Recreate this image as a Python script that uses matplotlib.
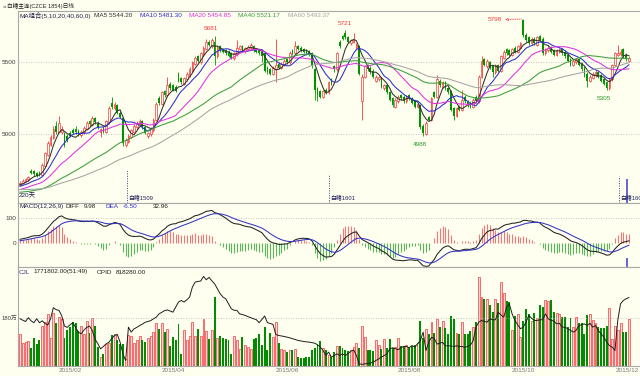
import numpy as np
import pandas as pd
import matplotlib
matplotlib.use("Agg")
import matplotlib.pyplot as plt
import matplotlib.transforms as mtrans
from matplotlib import font_manager

installed = {f.name for f in font_manager.fontManager.ttflist}
latin = 'Liberation Sans Narrow' if 'Liberation Sans Narrow' in installed else 'Liberation Sans'
plt.rcParams['font.family'] = [latin, 'Noto Sans CJK SC', 'DejaVu Sans']
FS = 5.2 if latin.endswith('Narrow') else 4.6

# ---- data (prices in yuan/t, volume and open interest in 万手) ----
# closes before the visible window, only used to warm up the MA / MACD lines
prior_closes = [4700, 4690, 4710, 4695, 4680, 4690, 4670, 4660, 4675, 4665,
                4650, 4660, 4645, 4640, 4655, 4640, 4630, 4625, 4640, 4630,
                4620, 4610, 4625, 4615, 4600, 4590, 4605, 4595, 4580, 4590,
                4575, 4570, 4585, 4575, 4560, 4570, 4555, 4565, 4550, 4560,
                4570, 4555, 4575, 4590, 4580, 4600, 4595, 4610, 4620, 4605,
                4625, 4615, 4630, 4640, 4625, 4645, 4650, 4640, 4655, 4650]

opens = [4650, 4665, 4678, 4690, 4750, 4745, 4730, 4735, 4720, 4785,
         4860, 4930, 4975, 5060, 5020, 5020, 5010, 4990, 5010, 5030,
         5040, 5025, 4995, 5015, 5040, 5090, 5065, 5110, 5080, 5020,
         5045, 5020, 5085, 5220, 5180, 5200, 5150, 5110, 4930, 4950,
         4985, 5020, 5050, 5070, 5090, 5050, 4990, 5000, 5030, 5100,
         5250, 5210, 5300, 5270, 5350, 5340, 5330, 5420, 5390, 5350,
         5380, 5410, 5440, 5490, 5540, 5500, 5555, 5590, 5640, 5610,
         5640, 5540, 5610, 5590, 5580, 5570, 5560, 5525, 5555, 5590,
         5610, 5575, 5590, 5600, 5610, 5590, 5580, 5570, 5560, 5460,
         5450, 5420, 5450, 5490, 5460, 5480, 5520, 5500, 5580, 5560,
         5610, 5600, 5590, 5580, 5570, 5560, 5450, 5320, 5300, 5260,
         5310, 5290, 5380, 5470, 5450, 5640, 5680, 5700, 5670, 5630,
         5640, 5600, 5610, 5230, 5400, 5480, 5460, 5440, 5370, 5380,
         5390, 5320, 5340, 5290, 5250, 5190, 5230, 5270, 5260, 5230,
         5270, 5250, 5230, 5190, 5200, 5060, 5000, 5120, 5100, 5290,
         5260, 5370, 5330, 5360, 5320, 5300, 5180, 5130, 5190, 5170,
         5260, 5230, 5220, 5190, 5260, 5230, 5400, 5520, 5470, 5500,
         5470, 5430, 5480, 5440, 5530, 5590, 5580, 5550, 5600, 5570,
         5600, 5790, 5690, 5670, 5630, 5660, 5620, 5680, 5660, 5560,
         5580, 5600, 5580, 5550, 5570, 5590, 5570, 5550, 5520, 5480,
         5500, 5520, 5490, 5460, 5420, 5370, 5390, 5410, 5430, 5410,
         5380, 5360, 5320, 5380, 5480, 5550, 5555, 5590, 5550, 5510]

highs = [4675, 4690, 4700, 4715, 4760, 4755, 4740, 4745, 4800, 4880,
         4955, 4995, 5060, 5090, 5127, 5060, 5020, 5000, 5025, 5045,
         5055, 5035, 5030, 5055, 5095, 5100, 5130, 5120, 5090, 5045,
         5055, 5100, 5195, 5260, 5225, 5210, 5160, 5120, 4975, 5000,
         5040, 5070, 5090, 5105, 5100, 5060, 5020, 5050, 5110, 5225,
         5265, 5300, 5310, 5395, 5360, 5350, 5340, 5430, 5400, 5400,
         5430, 5465, 5510, 5545, 5550, 5570, 5610, 5660, 5650, 5665,
         5681, 5615, 5620, 5600, 5590, 5580, 5570, 5570, 5655, 5620,
         5620, 5605, 5615, 5635, 5620, 5600, 5590, 5580, 5570, 5470,
         5460, 5470, 5660, 5500, 5500, 5520, 5530, 5575, 5590, 5645,
         5620, 5610, 5600, 5590, 5580, 5570, 5460, 5330, 5310, 5310,
         5320, 5370, 5390, 5480, 5570, 5650, 5690, 5721, 5680, 5660,
         5700, 5630, 5620, 5420, 5480, 5490, 5470, 5450, 5410, 5405,
         5400, 5350, 5350, 5300, 5260, 5250, 5270, 5280, 5270, 5275,
         5280, 5260, 5240, 5220, 5210, 5070, 5090, 5130, 5260, 5300,
         5410, 5385, 5370, 5370, 5330, 5310, 5190, 5190, 5200, 5310,
         5270, 5240, 5230, 5250, 5270, 5410, 5540, 5530, 5520, 5510,
         5480, 5490, 5490, 5550, 5580, 5600, 5590, 5600, 5610, 5620,
         5640, 5798, 5700, 5680, 5670, 5670, 5680, 5690, 5670, 5600,
         5610, 5610, 5590, 5590, 5600, 5600, 5580, 5560, 5530, 5520,
         5530, 5530, 5500, 5470, 5430, 5410, 5430, 5445, 5440, 5420,
         5390, 5370, 5390, 5490, 5570, 5620, 5590, 5600, 5560, 5545]

lows = [4640, 4655, 4670, 4680, 4725, 4715, 4705, 4710, 4715, 4775,
        4850, 4920, 4965, 5005, 5010, 5005, 4910, 4945, 4980, 5000,
        5005, 4990, 4985, 5005, 5030, 5060, 5055, 5075, 5040, 4980,
        5010, 5010, 5075, 5175, 5170, 5140, 5110, 4920, 4910, 4940,
        4975, 5010, 5040, 5060, 5040, 5000, 4975, 4990, 5020, 5090,
        5200, 5200, 5260, 5260, 5310, 5300, 5290, 5360, 5350, 5340,
        5370, 5400, 5430, 5480, 5500, 5490, 5545, 5580, 5610, 5600,
        5480, 5530, 5570, 5560, 5550, 5535, 5520, 5515, 5545, 5580,
        5570, 5565, 5580, 5590, 5570, 5560, 5550, 5500, 5430, 5420,
        5410, 5410, 5360, 5450, 5450, 5470, 5490, 5490, 5550, 5550,
        5580, 5570, 5560, 5550, 5540, 5460, 5240, 5230, 5250, 5250,
        5280, 5280, 5340, 5430, 5440, 5600, 5650, 5660, 5630, 5620,
        5630, 5590, 5410, 5100, 5390, 5440, 5420, 5390, 5360, 5370,
        5320, 5310, 5280, 5230, 5190, 5180, 5220, 5240, 5220, 5220,
        5240, 5210, 5180, 5180, 5040, 4988, 4995, 5090, 5090, 5250,
        5250, 5330, 5320, 5310, 5280, 5160, 5100, 5120, 5160, 5160,
        5220, 5190, 5180, 5180, 5220, 5220, 5390, 5470, 5460, 5450,
        5400, 5420, 5430, 5430, 5520, 5550, 5540, 5540, 5560, 5560,
        5590, 5670, 5640, 5620, 5620, 5620, 5610, 5640, 5550, 5550,
        5570, 5560, 5540, 5540, 5560, 5550, 5530, 5500, 5470, 5470,
        5490, 5470, 5440, 5400, 5330, 5360, 5380, 5400, 5390, 5360,
        5340, 5305, 5310, 5370, 5470, 5540, 5545, 5530, 5510, 5500]

closes = [4665, 4680, 4690, 4705, 4735, 4725, 4715, 4720, 4790, 4870,
          4940, 4980, 5040, 5020, 5080, 5040, 4925, 4960, 4990, 5010,
          5015, 5000, 5020, 5045, 5080, 5070, 5110, 5085, 5050, 5035,
          5020, 5090, 5180, 5190, 5210, 5150, 5120, 4940, 4960, 4990,
          5030, 5060, 5080, 5095, 5050, 5010, 5010, 5040, 5100, 5210,
          5215, 5290, 5270, 5340, 5320, 5310, 5300, 5370, 5360, 5390,
          5420, 5450, 5500, 5530, 5510, 5560, 5600, 5640, 5620, 5650,
          5540, 5600, 5580, 5570, 5560, 5545, 5530, 5560, 5600, 5610,
          5580, 5595, 5605, 5620, 5580, 5570, 5560, 5545, 5440, 5430,
          5420, 5460, 5480, 5460, 5490, 5510, 5500, 5560, 5560, 5610,
          5590, 5580, 5570, 5560, 5550, 5470, 5310, 5270, 5260, 5300,
          5290, 5360, 5350, 5450, 5560, 5610, 5660, 5670, 5640, 5650,
          5660, 5620, 5420, 5400, 5470, 5450, 5430, 5400, 5400, 5395,
          5330, 5340, 5290, 5240, 5200, 5240, 5260, 5250, 5230, 5260,
          5250, 5220, 5190, 5210, 5050, 5010, 5080, 5100, 5250, 5260,
          5380, 5340, 5360, 5320, 5290, 5170, 5130, 5180, 5170, 5240,
          5230, 5200, 5190, 5240, 5230, 5400, 5510, 5480, 5510, 5460,
          5430, 5480, 5440, 5540, 5570, 5560, 5550, 5590, 5570, 5610,
          5630, 5690, 5650, 5630, 5660, 5630, 5670, 5650, 5560, 5590,
          5600, 5570, 5550, 5580, 5590, 5560, 5540, 5510, 5480, 5510,
          5520, 5480, 5450, 5410, 5370, 5400, 5420, 5430, 5400, 5370,
          5350, 5320, 5380, 5480, 5560, 5560, 5570, 5540, 5520, 5530]

volumes = [118.7, 85.5, 89.4, 94.5, 66.4, 106, 80.4, 98.3, 150.6, 164.7,
           194, 106, 198, 159.6, 185, 175, 106, 134, 147, 165,
           162, 132, 150, 121, 168, 124, 179, 150, 70, 32,
           45, 83, 85, 115, 121, 96, 83, 80, 26, 115,
           111, 85, 98, 111, 98, 89, 106, 111, 127, 162,
           140, 162, 127, 140, 73, 109, 96, 157, 45, 134,
           96, 111, 166, 111, 137, 111, 175, 132, 102, 134,
           259, 106, 111, 106, 102, 98, 45, 111, 96, 64,
           109, 77, 70, 64, 100, 106, 121, 77, 147, 57,
           124, 109, 166, 85, 64, 60, 50, 60, 57, 64,
           32, 28, 29, 32, 34, 60, 68, 77, 94, 67.6,
           57.4, 38.3, 31.9, 51.1, 72.8, 72.8, 67.6, 57.4, 54.9, 60,
           70.2, 85.5, 67.6, 149.8, 106.4, 60, 60, 54.9, 96.2, 77,
           64.3, 98.8, 67.6, 101.3, 67.6, 70.2, 102.6, 72.8, 72.8, 77,
           67.6, 72.8, 77, 85.5, 170.2, 102.6, 136.6, 118.8, 163.8, 123.9,
           175.3, 147.2, 170.2, 140.8, 118.8, 185.6, 175.3, 123.9, 118.8, 166.4,
           118.8, 118.8, 131.6, 144.4, 166.4, 335.7, 259.1, 251.5, 251.5, 229.8,
           204.3, 251.5, 236.2, 315.3, 274.5, 242.5, 238.7, 134, 187.6, 195.3,
           108.5, 170.2, 213.2, 195.3, 170.2, 200.4, 178.7, 229.8, 220.9, 246.4,
           242.5, 248.9, 204.3, 200.4, 195.3, 185.1, 182.6, 147.2, 178.7, 147.2,
           185.1, 159.6, 159.6, 118.8, 191.5, 195.3, 172.3, 162.1, 147.2, 140.8,
           140.8, 149.8, 217.5, 98.8, 149.8, 134, 159.6, 127.7, 127.7, 177.2]

open_interest = [65.6, 64.5, 63.5, 66.4, 64.0, 62.6, 65.6, 62.6, 64.0, 62.0,
                 60.8, 65.6, 74.0, 72.5, 72.0, 68.0, 60.0, 59.0, 61.0, 62.6,
                 59.0, 55.4, 54.1, 57.0, 59.0, 60.0, 56.7, 50.0, 46.5, 42.7,
                 44.5, 46.5, 47.8, 50.5, 52.9, 53.6, 47.8, 38.9, 33.8, 59.2,
                 55.4, 57.9, 59.0, 60.4, 61.5, 62.9, 63.5, 64.2, 65.5, 66.8,
                 69.3, 70.5, 71.8, 72.3, 71.5, 70.6, 74.4, 78.3, 79.5, 78.3,
                 80.0, 82.1, 89.7, 93.5, 94.0, 94.3, 97.8, 95.3, 97.1, 94.5,
                 92.2, 88.4, 84.6, 82.1, 80.8, 77.0, 73.2, 72.0, 72.0, 69.3,
                 68.8, 68.1, 67.2, 66.4, 65.6, 64.9, 62.6, 65.0, 67.7, 62.6,
                 62.0, 61.3, 53.6, 52.9, 52.5, 52.1, 51.6, 51.1, 50.4, 49.8,
                 49.1, 48.7, 48.3, 48.0, 47.8, 47.4, 47.0, 45.8, 44.0, 41.5,
                 37.6, 40.2, 36.4, 37.5, 38.9, 37.6, 38.9, 37.6, 39.0, 40.9,
                 41.9, 37.6, 31.3, 30.8, 31.3, 31.5, 31.8, 32.6, 33.8, 35.0,
                 36.4, 37.6, 38.9, 42.7, 43.5, 42.8, 42.0, 43.5, 44.5, 44.5,
                 43.5, 45.2, 44.0, 46.5, 49.1, 55.4, 41.4, 47.6, 51.4, 50.6,
                 46.3, 47.0, 47.6, 45.0, 45.0, 44.8, 44.5, 45.0, 44.5, 44.5,
                 43.7, 44.6, 45.5, 48.8, 59.2, 63.0, 64.3, 63.5, 63.0, 65.6,
                 64.8, 64.8, 70.6, 68.5, 66.8, 74.4, 76.9, 69.3, 64.3, 61.0,
                 58.0, 59.2, 63.0, 68.1, 66.0, 64.3, 64.3, 64.8, 64.8, 69.3,
                 65.5, 64.5, 63.8, 61.7, 62.2, 59.2, 59.2, 58.0, 56.7, 55.4,
                 56.7, 60.4, 61.0, 61.7, 60.4, 62.2, 59.2, 60.4, 56.7, 54.0,
                 51.6, 47.8, 45.2, 44.0, 41.4, 64.3, 77.0, 79.5, 80.8, 81.8]

ma_periods = [5, 10, 20, 40, 60]
ma_texts = ['MA5 5544.20', 'MA10 5481.30', 'MA20 5454.85', 'MA40 5521.17', 'MA60 5492.37']
month_pos = [18, 55, 96, 140, 181, 218.6]
month_labels = ['2015/02', '2015/04', '2015/06', '2015/08', '2015/10', '2015/12']

# ---- styling ----
W, H = 640, 376
BG = '#fffff0'
RED = '#f03a3a'
GREEN = '#009400'
ma_colors = ['#303030', '#2c2cd0', '#e030e0', '#3c9c3c', '#a4a4a4']
GRID = dict(color='#b4b4b4', lw=0.6, ls=(0, (1, 2)))

fig = plt.figure(figsize=(W / 100, H / 100), dpi=100, facecolor=BG)


def px_axes(x0, y0, x1, y1):
    a = fig.add_axes([x0 / W, 1 - y1 / H, (x1 - x0) / W, (y1 - y0) / H])
    a.set_facecolor(BG)
    a.set_xticks([])
    a.set_yticks([])
    for s in ['top', 'bottom', 'left']:
        a.spines[s].set_color('#a8a8a8')
        a.spines[s].set_linewidth(0.8)
    a.spines['right'].set_visible(False)
    a.set_xlim(-0.72, 223.0)
    return a


def ftext(x, y, s, **kw):
    kw.setdefault('fontsize', FS)
    kw.setdefault('va', 'center')
    fig.text(x / W, 1 - y / H, s, **kw)


ax = px_axes(18, 11, 640, 202.7)
axm = px_axes(18, 202.7, 640, 267)
axv = px_axes(18, 267, 640, 365.5)

n = len(closes)
x = np.arange(n)
o = np.array(opens, float)
c = np.array(closes, float)
hi = np.array(highs, float)
lo = np.array(lows, float)
up = c >= o

# ---- price panel ----
ax.set_ylim(4528, 5853)
ax.axhline(5500, **GRID)
ax.axhline(5000, **GRID)
wick_cols = np.where(up, RED, GREEN)
ax.vlines(x, lo, hi, colors=wick_cols, lw=0.6, zorder=2)
body_bot = np.minimum(o, c)
body_h = np.maximum(np.abs(c - o), 4)
ax.bar(x[up], body_h[up], bottom=body_bot[up], width=0.62, facecolor=BG,
       edgecolor=RED, lw=0.5, zorder=3)
ax.bar(x[~up], body_h[~up], bottom=body_bot[~up], width=0.62, color=GREEN,
       lw=0, zorder=3)

full = pd.Series(prior_closes + closes, dtype=float)
for p, col in zip(ma_periods, ma_colors):
    ma = full.rolling(p).mean().to_numpy()[-n:]
    ax.plot(x, ma, color=col, lw=0.75, zorder=4)

lab = dict(fontsize=FS, ha='center', textcoords='offset pixels')
ax.annotate('5681', (70, 5681), xytext=(-4, 7), color=RED, va='center', **lab)
ax.annotate('5721', (117, 5721), xytext=(0, 7), color=RED, va='center', **lab)
ax.annotate('4988', (145, 4988), xytext=(-3, -8), color='#2a9a2a', va='center', **lab)
ax.annotate('5305', (211, 5305), xytext=(-3, -8), color='#2a9a2a', va='center', **lab)
ax.annotate('5798', (181, 5798), xytext=(-28, -1), color=RED, fontsize=FS, ha='center',
            va='center', textcoords='offset pixels',
            arrowprops=dict(arrowstyle='<-', color=RED, lw=0.6, ls=':',
                            shrinkA=0, shrinkB=1))

# contract roll markers
bt = mtrans.blended_transform_factory(ax.transData, ax.transAxes)
for xr, frac, txt in [(38.5, 0.17, '白糖1509'), (111.2, 0.145, '白糖1601'), (215.5, 0.14, '白糖1605')]:
    ax.axvline(xr, 0, frac, color='#3c3c8c', lw=0.7, ls=(0, (1, 1.5)))
    ax.text(xr + 0.4, 0.028, txt, transform=bt, fontsize=FS - 0.4, color='#1e1e5a',
            va='center', ha='left', clip_on=True)
ax.axvline(218.2, 0, 0.118, color='#6464d4', lw=1.4)

ftext(3, 6, '»', color='#404040')
ftext(7, 6, '白糖主连(CZCE 1854)日线', fontsize=FS - 0.5, color='#202020')
ftext(20, 15.5, 'MA组合(5,10,20,40,60,0)', color='#20204a')
for xp, txt, col in zip([94, 140, 189, 238, 288], ma_texts, ma_colors):
    ftext(xp, 15.5, txt, color=col)
ftext(19, 196, '220天', color='#20204a')
ftext(16.5, 62.5, '5500', ha='right', color='#404040')
ftext(16.5, 134.3, '5000', ha='right', color='#404040')

# ---- MACD panel ----
ema12 = full.ewm(span=12, adjust=False).mean()
ema26 = full.ewm(span=26, adjust=False).mean()
diff = (ema12 - ema26).to_numpy()
dea = (ema12 - ema26).ewm(span=9, adjust=False).mean().to_numpy()
diff, dea = diff[-n:], dea[-n:]
hist = 2 * (diff - dea)
axm.set_ylim(-95, 162)
axm.axhline(100, **GRID)
axm.vlines(x, 0, hist, colors=np.where(hist >= 0, '#f07878', '#58b858'), lw=0.8)
axm.plot(x, diff, color='#222222', lw=0.75)
axm.plot(x, dea, color='#3434c4', lw=0.75)
axm.axvline(218.2, 0, 0.124, color='#6464d4', lw=1.4)
ftext(19, 206.5, 'MACD(12,26,9)', color='#20204a')
ftext(66, 206.5, 'DIFF', color='#202020')
ftext(84, 206.5, '9.98', color='#202020')
ftext(105, 206.5, 'DEA', color='#2c2cd0')
ftext(123, 206.5, '-6.50', color='#2c2cd0')
ftext(153, 206.5, '32.96', color='#202020')
ftext(16.5, 218.3, '100', ha='right', color='#404040')
ftext(16.5, 243.3, '0', ha='right', color='#404040')

# ---- volume / open interest panel ----
vol = np.array(volumes, float)
axv.set_ylim(0, 373)
axv.axhline(180, **GRID)
axv.bar(x[up], vol[up], width=0.7, facecolor='#ffd8d8', edgecolor=RED, lw=0.5)
axv.bar(x[~up], vol[~up], width=0.7, color='#008c00', lw=0)
axo = axv.twinx()
axo.set_ylim(30, 105)
axo.set_xlim(-0.72, 223.0)
axo.axis('off')
axo.plot(x, open_interest, color='#1e1e1e', lw=0.7)
ftext(19, 272, 'CJL', color='#3a3a8a')
ftext(33, 272, '1771802.00(51:49)', color='#202020')
ftext(97, 272, 'OPID', color='#202020')
ftext(116, 272, '818280.00', color='#202020')
ftext(17, 318, '180万', ha='right', fontsize=FS - 0.4, color='#404040')

bv = mtrans.blended_transform_factory(axv.transData, axv.transAxes)
for xp, txt in zip(month_pos, month_labels):
    axv.text(xp, -0.048, txt, transform=bv, ha='center', va='center',
             fontsize=FS, color='#7a7a7a', clip_on=False)

fig.savefig('out.png', dpi=100, facecolor=BG)
